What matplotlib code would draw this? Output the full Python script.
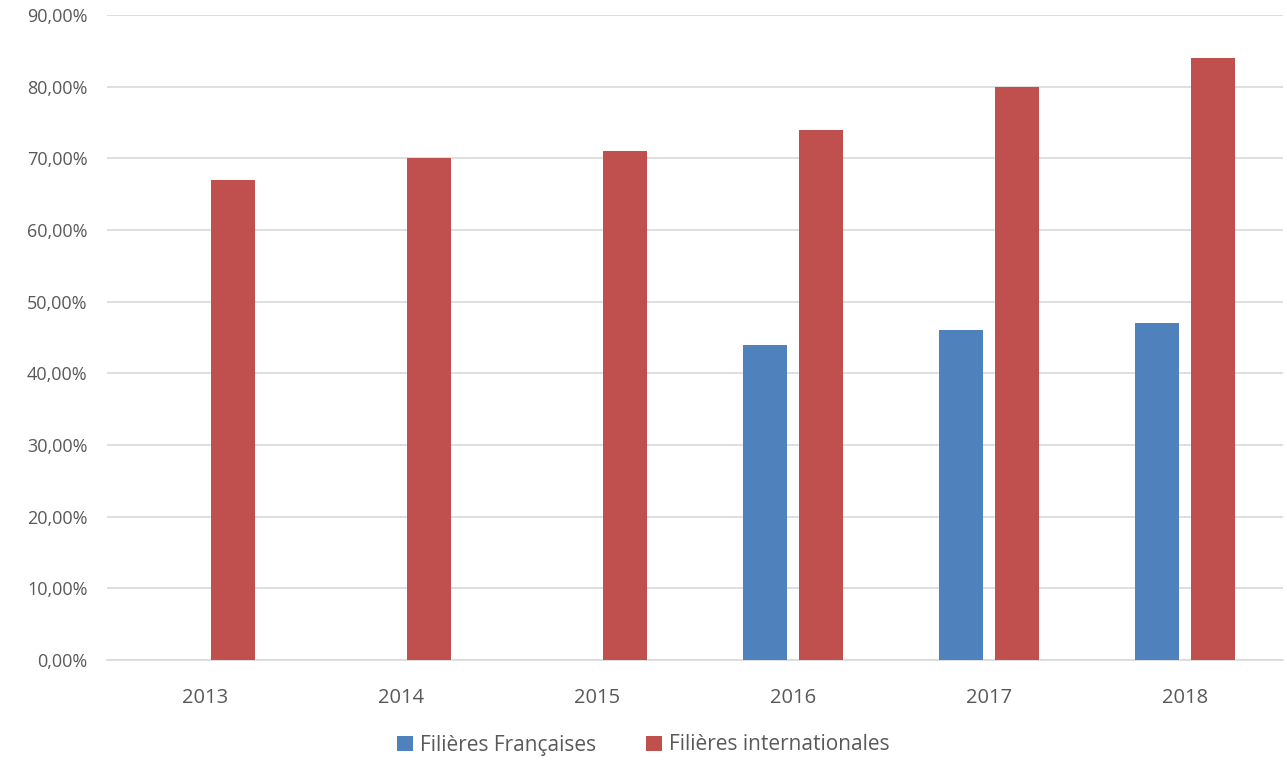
import matplotlib
matplotlib.use("Agg")
import matplotlib.pyplot as plt
import numpy as np
from matplotlib.ticker import FuncFormatter

years = ["2013", "2014", "2015", "2016", "2017", "2018"]
francaises = [np.nan, np.nan, np.nan, 0.44, 0.46, 0.47]
internationales = [0.67, 0.70, 0.71, 0.74, 0.80, 0.84]

plt.rcParams['font.family'] = ['Open Sans', 'DejaVu Sans']
text_color = '#595959'

fig = plt.figure(figsize=(12.87, 7.62), dpi=100)
ax = fig.add_axes([107 / 1287, 102 / 762, 1176 / 1287, 645 / 762])

x = np.arange(len(years))
width = 0.224
offset = 0.143
ax.bar(x - offset, francaises, width, color='#4F81BD', label='Filières Françaises', zorder=3)
ax.bar(x + offset, internationales, width, color='#C0504D', label='Filières internationales', zorder=3)

ax.set_xlim(-0.5, len(years) - 0.5)
ax.set_ylim(0, 0.9)
ax.set_yticks(np.arange(0, 0.91, 0.1))
ax.yaxis.set_major_formatter(FuncFormatter(lambda v, p: f"{v * 100:.2f}%".replace('.', ',')))
ax.set_xticks(x)
ax.set_xticklabels(years)
ax.tick_params(axis='y', length=0, labelsize=13, colors=text_color, pad=14)
ax.tick_params(axis='x', length=0, labelsize=14.5, colors=text_color, pad=20)

ax.grid(axis='y', color='#D9D9D9', linewidth=1.2, zorder=0)
for s in ['top', 'right', 'left']:
    ax.spines[s].set_visible(False)
ax.spines['bottom'].set_color('#D9D9D9')
ax.spines['bottom'].set_linewidth(1.2)

fig.legend(loc='center', bbox_to_anchor=(0.5, 17 / 762), ncol=2, frameon=False,
           fontsize=15, handlelength=0.75, handleheight=0.75, columnspacing=2.4,
           handletextpad=0.35, labelcolor=text_color)

fig.savefig('out.png', dpi=100)
